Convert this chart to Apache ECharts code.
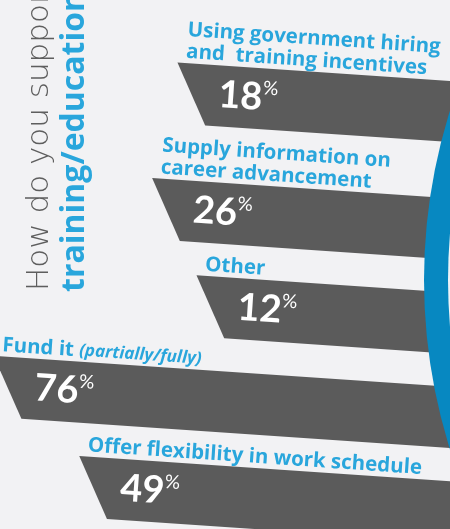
<!DOCTYPE html>
<html>
<head>
<meta charset="utf-8">
<style>
  html, body { margin: 0; padding: 0; background: #f2f2f4; }
  #chart { width: 450px; height: 529px; }
</style>
<script src="https://cdn.jsdelivr.net/npm/echarts@6/dist/echarts.min.js"></script>
</head>
<body>
<div id="chart"></div>
<script>
// answers, top to bottom
const answers = [
  'Using government hiring\nand  training incentives',
  'Supply information on\ncareer advancement',
  'Other',
  'Fund it',
  'Offer flexibility in work schedule'
];
const answerNotes = ['', '', '', '(partially/fully)', ''];
const shares = [18, 26, 12, 76, 49];
const titleLines = ['How do you support', 'training/education?'];

const BLUE = '#29a6dc';
const BAR = '#5b5b5b';
const SLOPE = 0.068;     // the whole block leans down to the right
const ROW_GAP = 3.1;     // rows are spaced in label-line units
const BAR_UNITS = 2.74;  // bar height in the same units
const FONT = '"Open Sans", Lato, sans-serif';

// each row takes its bar plus as many label lines as it needs
const rowPos = [];
answers.forEach((a, i) => {
  const lines = a.split('\n').length;
  rowPos.push(i === 0 ? 0 : rowPos[i - 1] + ROW_GAP + lines);
});

const chart = echarts.init(document.getElementById('chart'));

function renderBar(params, api) {
  const value = api.value(0);
  const idx = api.value(2);
  const pt = api.coord([value, api.value(1)]);
  const h = api.size([0, BAR_UNITS])[1];
  const dx = h * 0.44;
  const xL = pt[0];
  const yTL = pt[1] - h / 2 + SLOPE * xL;
  const xR = 480;
  const rot = -Math.atan(SLOPE);

  const note = answerNotes[idx];
  const labelText = note
    ? '{a|' + answers[idx] + ' }{b|' + note + '}'
    : '{a|' + answers[idx] + '}';

  return {
    type: 'group',
    children: [
      {
        type: 'polygon',
        shape: {
          points: [
            [xL, yTL],
            [xR, yTL + SLOPE * (xR - xL)],
            [xR, yTL + h + SLOPE * (xR - xL - dx)],
            [xL + dx, yTL + h]
          ]
        },
        style: { fill: BAR }
      },
      {
        type: 'text',
        x: xL + 8,
        y: yTL + SLOPE * 8,
        rotation: rot,
        style: {
          text: labelText,
          align: 'left',
          verticalAlign: 'bottom',
          rich: {
            a: { fontFamily: FONT, fontWeight: 'bold', fontSize: 20.5, lineHeight: 22, fill: BLUE },
            b: { fontFamily: FONT, fontWeight: 'bold', fontStyle: 'italic', fontSize: 17, lineHeight: 22, fill: BLUE }
          }
        }
      },
      {
        type: 'text',
        x: xL + 41,
        y: yTL + h / 2 - 2 + SLOPE * 41,
        rotation: rot,
        style: {
          text: '{n|' + value + '}{p|%}',
          align: 'left',
          verticalAlign: 'middle',
          rich: {
            n: { fontFamily: 'Lato, sans-serif', fontWeight: 'bold', fontSize: 38, fill: '#ffffff' },
            p: { fontFamily: 'Lato, sans-serif', fontSize: 19, fill: '#ffffff', verticalAlign: 'top' }
          }
        }
      }
    ]
  };
}

chart.setOption({
  backgroundColor: '#f2f2f4',
  animation: false,
  grid: { left: 0, right: 0, top: 0, bottom: 0 },
  xAxis: { type: 'value', min: -68, max: 74, inverse: true, show: false },
  yAxis: { type: 'value', min: -3.56, max: 19.44, inverse: true, show: false },
  graphic: [
    {
      type: 'text',
      rotation: Math.PI / 2,
      x: 40,
      y: 291,
      style: {
        text: titleLines[0],
        font: '200 31px "DejaVu Sans", sans-serif',
        fill: '#5e5e5e',
        align: 'left',
        verticalAlign: 'middle'
      }
    },
    {
      type: 'text',
      rotation: Math.PI / 2,
      x: 75,
      y: 292,
      style: {
        text: titleLines[1],
        font: 'bold 32px "Open Sans", sans-serif',
        fill: BLUE,
        align: 'left',
        verticalAlign: 'middle'
      }
    },
    {
      type: 'circle',
      z: 10,
      shape: { cx: 989, cy: 280, r: 565 },
      style: { fill: '#0788c1' }
    },
    {
      type: 'circle',
      z: 11,
      shape: { cx: 989, cy: 280, r: 541 },
      style: { fill: '#eef3f7' }
    }
  ],
  series: [{
    type: 'custom',
    renderItem: renderBar,
    encode: { x: 0, y: 1 },
    data: shares.map((v, i) => [v, rowPos[i], i]),
    clip: false
  }]
});
</script>
</body>
</html>
